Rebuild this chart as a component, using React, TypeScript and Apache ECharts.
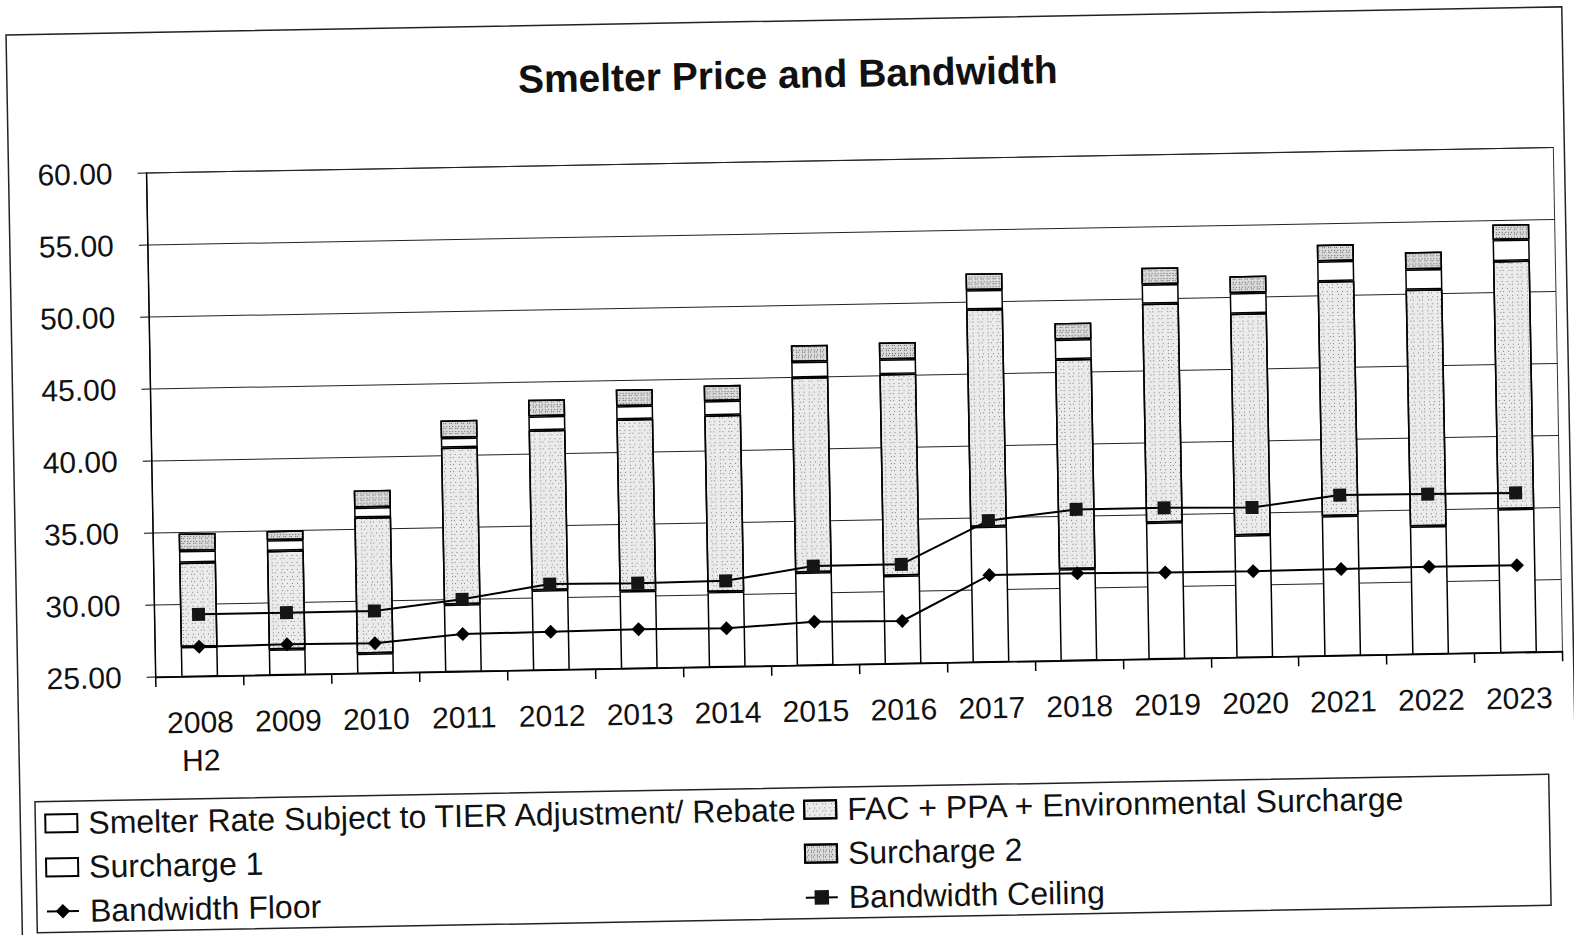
import React, { useEffect, useRef } from "react";
import * as echarts from "echarts";

// Categories (x axis)
const years = [
  "2008\nH2", "2009", "2010", "2011", "2012", "2013", "2014", "2015",
  "2016", "2017", "2018", "2019", "2020", "2021", "2022", "2023",
];

// Stacked price components ($/MWh)
const smelterRate = [27.04, 26.75, 26.36, 29.65, 30.53, 30.36, 30.19, 31.43, 31.09, 34.38, 31.33, 34.46, 33.46, 34.69, 33.86, 34.95];
const facPpaEnv = [5.86, 6.85, 9.45, 10.9, 11.11, 11.93, 12.27, 13.54, 14.01, 15.1, 14.58, 15.2, 15.4, 16.3, 16.44, 17.23];
const surcharge1 = [0.81, 0.74, 0.69, 0.67, 0.97, 0.92, 0.99, 1.09, 1.02, 1.34, 1.37, 1.34, 1.43, 1.39, 1.41, 1.46];
const surcharge2 = [1.21, 0.65, 1.2, 1.23, 1.16, 1.16, 1.09, 1.16, 1.18, 1.16, 1.15, 1.16, 1.18, 1.16, 1.2, 1.08];

// Bandwidth lines
const bandwidthFloor = [27.04, 27.1, 27.06, 27.59, 27.63, 27.7, 27.65, 28.0, 27.94, 31.02, 31.03, 30.98, 30.96, 30.99, 31.04, 31.03];
const bandwidthCeiling = [29.29, 29.29, 29.3, 30.0, 30.95, 30.9, 30.95, 31.87, 31.88, 34.8, 35.47, 35.47, 35.38, 36.13, 36.09, 36.06];

// Y axis range
const yMin = 25;
const yMax = 60;
const yStep = 5;

const NAMES = {
  smelter: "Smelter Rate Subject to TIER Adjustment/ Rebate",
  fac: "FAC + PPA + Environmental Surcharge",
  s1: "Surcharge 1",
  s2: "Surcharge 2",
  floor: "Bandwidth Floor",
  ceiling: "Bandwidth Ceiling",
};

const FONT = "'Liberation Sans', Arial, Helvetica, sans-serif";

const lightStipple = {
  symbol: "rect",
  symbolSize: 1,
  color: "rgba(40,40,40,0.55)",
  dashArrayX: [[1, 4], [1, 2, 1, 5]],
  dashArrayY: [1, 2, 1, 3],
  rotation: 0,
};

const darkStipple = {
  symbol: "rect",
  symbolSize: 1,
  color: "rgba(20,20,20,0.6)",
  dashArrayX: [[1, 2], [1, 1, 1, 3]],
  dashArrayY: [1, 1, 1, 2],
  rotation: 0,
};

const barBase = {
  type: "bar",
  stack: "price",
  barWidth: 37,
  itemStyle: { borderColor: "#000", borderWidth: 1.5 },
  emphasis: { disabled: true },
};

export default function App() {
  const ref = useRef<HTMLDivElement>(null);

  useEffect(() => {
    if (!ref.current) return;
    const chart = echarts.init(ref.current, null, { renderer: "svg" });

    const legendText = {
      fontSize: 32,
      fontFamily: FONT,
      color: "#111",
      lineHeight: 31,
      padding: [0, 0, 0, 6],
    };

    const legendBase = {
      orient: "vertical",
      top: 794,
      padding: 0,
      itemGap: 12,
      itemWidth: 32,
      itemHeight: 18,
      selectedMode: false,
      textStyle: legendText,
    };

    chart.setOption({
      animation: false,
      backgroundColor: "#fff",
      title: {
        text: "Smelter Price and Bandwidth",
        left: 525,
        top: 55,
        padding: 0,
        textStyle: { fontSize: 39, fontWeight: "bold", fontFamily: FONT, color: "#111" },
      },
      grid: {
        left: 152,
        top: 161.4,
        width: 1407,
        height: 504,
        show: true,
        borderColor: "#333",
        borderWidth: 1,
        containLabel: false,
      },
      legend: [
        {
          ...legendBase,
          left: 38,
          data: [
            { name: NAMES.smelter, icon: "rect" },
            { name: NAMES.s1, icon: "rect" },
            { name: NAMES.floor },
          ],
        },
        {
          ...legendBase,
          left: 797,
          data: [
            { name: NAMES.fac, icon: "rect" },
            { name: NAMES.s2, icon: "rect" },
            { name: NAMES.ceiling },
          ],
        },
      ],
      xAxis: {
        type: "category",
        data: years,
        axisLine: { lineStyle: { color: "#000", width: 1.5 } },
        axisTick: { show: true, length: 10, lineStyle: { color: "#000", width: 1.5 } },
        axisLabel: {
          interval: 0,
          fontSize: 30,
          lineHeight: 38,
          margin: 27,
          color: "#111",
          fontFamily: FONT,
        },
      },
      yAxis: {
        type: "value",
        min: yMin,
        max: yMax,
        interval: yStep,
        axisLine: { show: true, lineStyle: { color: "#000", width: 1.5 } },
        axisTick: { show: true, length: 9, lineStyle: { color: "#000", width: 1 } },
        axisLabel: {
          fontSize: 30,
          margin: 34,
          color: "#111",
          fontFamily: FONT,
          formatter: (v: number) => v.toFixed(2),
        },
        splitLine: { show: true, lineStyle: { color: "#222", width: 1 } },
      },
      graphic: [
        {
          type: "rect",
          shape: { x: 14, y: 21, width: 1556, height: 930 },
          style: { fill: "none", stroke: "#222", lineWidth: 1.5 },
          silent: true,
          z: -1,
        },
        {
          type: "rect",
          shape: { x: 29, y: 788, width: 1514, height: 131 },
          style: { fill: "none", stroke: "#222", lineWidth: 1.5 },
          silent: true,
        },
      ],
      series: [
        {
          ...barBase,
          name: NAMES.smelter,
          data: smelterRate,
          itemStyle: { ...barBase.itemStyle, color: "#fff" },
        },
        {
          ...barBase,
          name: NAMES.fac,
          data: facPpaEnv,
          itemStyle: { ...barBase.itemStyle, color: "#ebebeb", decal: lightStipple },
        },
        {
          ...barBase,
          name: NAMES.s1,
          data: surcharge1,
          itemStyle: { ...barBase.itemStyle, color: "#fff" },
        },
        {
          ...barBase,
          name: NAMES.s2,
          data: surcharge2,
          itemStyle: { ...barBase.itemStyle, color: "#dadada", decal: darkStipple },
        },
        {
          type: "line",
          name: NAMES.floor,
          data: bandwidthFloor,
          symbol: "diamond",
          symbolSize: 14,
          lineStyle: { color: "#000", width: 2 },
          itemStyle: { color: "#000" },
          emphasis: { disabled: true },
          z: 5,
        },
        {
          type: "line",
          name: NAMES.ceiling,
          data: bandwidthCeiling,
          symbol: "rect",
          symbolSize: 13,
          lineStyle: { color: "#000", width: 2 },
          itemStyle: { color: "#151515" },
          emphasis: { disabled: true },
          z: 5,
        },
      ],
    });

    return () => chart.dispose();
  }, []);

  return (
    <div
      style={{
        position: "fixed",
        left: 0,
        top: 0,
        width: "100vw",
        height: "100vh",
        overflow: "hidden",
        background: "#fff",
      }}
    >
      <div
        ref={ref}
        style={{
          position: "absolute",
          left: 0,
          top: 0,
          width: 1574,
          height: 935,
          transform: "rotate(-1.04deg)",
          transformOrigin: "787px 467px",
        }}
      />
    </div>
  );
}
